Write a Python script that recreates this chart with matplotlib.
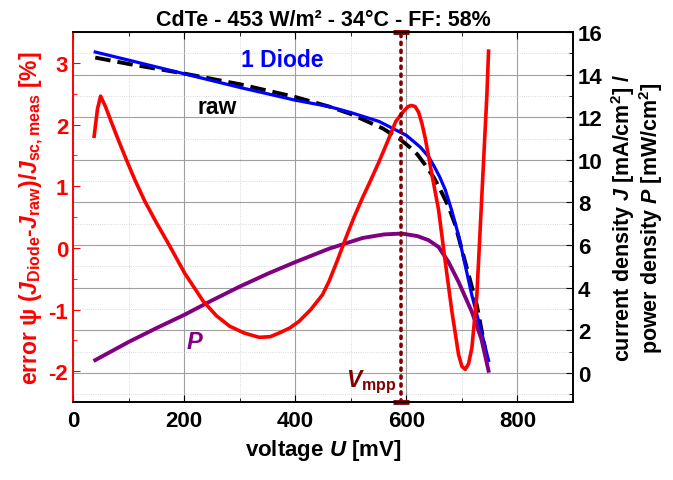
import matplotlib
matplotlib.use("Agg")
import matplotlib.pyplot as plt
from matplotlib.ticker import MultipleLocator

plt.rcParams['font.family'] = ['Liberation Sans', 'DejaVu Sans']
plt.rcParams['font.weight'] = 'bold'
plt.rcParams['axes.unicode_minus'] = False
plt.rcParams['mathtext.fontset'] = 'custom'
plt.rcParams['mathtext.rm'] = 'Liberation Sans:bold'
plt.rcParams['mathtext.it'] = 'Liberation Sans:bold:italic'
plt.rcParams['mathtext.bf'] = 'Liberation Sans:bold'

# Kennlinie (rechte Achse)
U_jv = [40, 100, 200, 300, 400, 461, 500, 551, 600, 625, 640, 650, 660, 670, 682, 694, 718,
        735, 748]
J_diode = [15.06, 14.68, 14.04, 13.4, 12.8, 12.5, 12.22, 11.8, 11.15, 10.6, 10.15, 9.7, 9.2,
           8.6, 7.6, 6.45, 3.64, 1.95, 0.58]
U_raw = [40, 100, 200, 300, 400, 461, 500, 557, 587, 604.5, 620, 634, 650, 664, 676, 688,
         706, 727, 742]
J_raw = [14.8, 14.5, 14.05, 13.55, 12.95, 12.5, 12.15, 11.48, 11.0, 10.63, 10.25, 9.76, 9.15,
         8.45, 7.8, 6.95, 5.2, 3.17, 1.1]
U_P = [40, 100, 150, 200, 250, 300, 350, 400, 461, 521, 560, 592, 620, 640, 658, 676, 694,
       718, 735, 748]
P_dens = [0.6, 1.45, 2.1, 2.72, 3.4, 4.05, 4.65, 5.2, 5.83, 6.33, 6.5, 6.54, 6.42, 6.23,
          5.91, 5.2, 4.27, 2.86, 1.6, 0.1]

# Fehler psi (linke Achse)
U_err = [38, 44, 49.6, 58, 69.4, 82, 96, 111, 129, 150, 171, 201, 234, 258, 282, 308, 335,
         355, 371, 390, 407, 428, 449, 461, 476, 491, 506, 521, 536, 551, 566, 581, 595.5,
         603, 609, 616, 622, 628, 634, 646, 658, 670, 682, 694, 700, 706, 712, 718, 727, 733,
         739, 745, 748]
psi = [1.81, 2.25, 2.46, 2.3, 2.03, 1.74, 1.43, 1.11, 0.76, 0.41, 0.08, -0.41, -0.86, -1.1,
       -1.27, -1.38, -1.45, -1.44, -1.38, -1.3, -1.19, -1.0, -0.76, -0.54, -0.2, 0.16, 0.5,
       0.81, 1.1, 1.40, 1.72, 2.05, 2.22, 2.29, 2.31, 2.29, 2.2, 2.02, 1.78, 1.19, 0.62,
       -0.22, -1.03, -1.73, -1.92, -1.97, -1.88, -1.62, -0.76, 0.32, 1.40, 2.48, 3.19]

V_mpp = 591

fig, ax = plt.subplots(figsize=(6.73, 4.81), dpi=100)
fig.subplots_adjust(left=0.1085, right=0.8514, bottom=0.162, top=0.9314)
ax2 = ax.twinx()
ax.set_zorder(ax2.get_zorder() + 1)
ax.patch.set_visible(False)

# Raster
ax2.xaxis.set_visible(True)
ax2.grid(True, axis='x', which='major', color='#a0a0a0', lw=0.8)
ax2.grid(True, axis='x', which='minor', color='#cccccc', lw=0.6, ls=':')
ax2.grid(True, axis='y', which='major', color='#a0a0a0', lw=0.8)
ax2.grid(True, axis='y', which='minor', color='#cccccc', lw=0.6, ls=':')
ax2.set_axisbelow(True)

ax2.plot(U_raw, J_raw, color='black', lw=2.8, ls=(0, (4, 1.8)))
ax2.plot(U_jv, J_diode, color='#0000ff', lw=2.3)
ax2.plot(U_P, P_dens, color='#800080', lw=2.8)

ax.plot(U_err, psi, color='#ff0000', lw=2.6)
ax.axvline(V_mpp, color='#800000', lw=2.6, ls=(0, (0.6, 1.6)), dash_capstyle='round')
ax.plot([V_mpp, V_mpp], [3.5, -2.5], ls='none', marker='_', ms=11, mew=3.5,
        color='#800000', clip_on=False)

ax.set_xlim(0, 900)
ax.set_ylim(-2.5, 3.5)
ax2.set_ylim(-1.37, 16)

ax.xaxis.set_major_locator(MultipleLocator(200))
ax.xaxis.set_minor_locator(MultipleLocator(100))
ax.yaxis.set_major_locator(MultipleLocator(1))
ax.yaxis.set_minor_locator(MultipleLocator(0.5))
ax2.yaxis.set_major_locator(MultipleLocator(2))
ax2.yaxis.set_minor_locator(MultipleLocator(1))

ax.tick_params(axis='x', which='both', direction='in', top=True, labelsize=16, pad=6)
ax.tick_params(axis='x', which='major', length=5)
ax.tick_params(axis='x', which='minor', length=3)
ax.tick_params(axis='y', which='both', direction='in', colors='#ff0000', labelsize=16)
ax.tick_params(axis='y', which='major', length=5)
ax.tick_params(axis='y', which='minor', length=3)
ax2.tick_params(axis='x', which='both', bottom=False, top=False, labelbottom=False)
ax2.tick_params(axis='y', which='both', direction='in', labelsize=16)
ax2.tick_params(axis='y', which='major', length=5)
ax2.tick_params(axis='y', which='minor', length=3)

for a in (ax, ax2):
    for s in a.spines.values():
        s.set_linewidth(1.2)
ax.spines['left'].set_color('#ff0000')
ax2.spines['left'].set_color('#ff0000')

ax.set_xlabel('voltage $U$ [mV]', fontsize=16, fontweight='bold', labelpad=4)
ax.set_ylabel(r'error ψ ($J_{\rm Diode}$-$J_{\rm raw}$)/$J_{\rm sc,meas}$ [%]',
              color='#ff0000', fontsize=16.5, fontweight='bold', labelpad=2)
ax2.set_ylabel('current density $J$ [mA/cm$^2$] /\npower density $P$ [mW/cm$^2$]',
               fontsize=15.5, fontweight='bold', labelpad=5, linespacing=1.0)
ax.set_title('CdTe - 453 W/m² - 34°C - FF: 58%', fontsize=15.5, fontweight='bold', pad=5)

ax2.text(377, 14.7, '1 Diode', color='#0000ff', fontsize=16.5, fontweight='bold',
         ha='center', va='center')
ax2.text(259, 12.5, 'raw', color='black', fontsize=16.5, fontweight='bold',
         ha='center', va='center')
ax2.text(220, 1.47, '$P$', color='#800080', fontsize=17, ha='center', va='center')
ax2.text(583, -0.4, r'$V_{\rm mpp}$', color='#800000', fontsize=16.5, ha='right', va='center')

fig.savefig('out.png', dpi=100)
